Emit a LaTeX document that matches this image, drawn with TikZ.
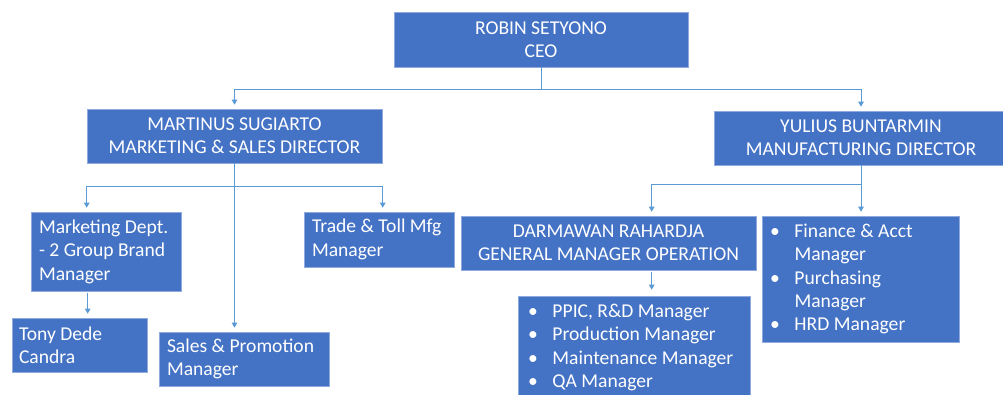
\documentclass[tikz,border=0pt]{standalone}
\usepackage{fontspec}
\setmainfont{Carlito}
\usetikzlibrary{arrows.meta,calc}
\definecolor{boxblue}{HTML}{4472C4}
\definecolor{boxedge}{HTML}{8FAADC}
\definecolor{linkblue}{HTML}{5B9BD5}
\newcommand\bul{\makebox[24.5pt][l]{•}}
\newcommand\ind{\hspace*{24.5pt}}
\tikzset{
  box/.style={fill=boxblue, draw=boxedge, line width=0.6pt, text=white, inner sep=0pt,
              font=\fontsize{19.6}{23.4}\selectfont,
              execute at begin node={\spaceskip=0pt\xspaceskip=0pt}},
  cbox/.style={box, align=center},
  lbox/.style={box, align=left},
  link/.style={draw=linkblue, line width=1pt},
  arr/.style={link, -{Triangle[width=5.5pt,length=5pt]}, shorten >=4pt},
}
\begin{document}
\begin{tikzpicture}[x=1pt,y=-1pt]
\useasboundingbox (0,0) rectangle (1003,394);

\node[cbox, minimum width=294pt, minimum height=55pt] (ceo) at (541,39.5) {ROBIN SETYONO\\CEO};
\node[cbox, minimum width=295pt, minimum height=54pt] (mart) at (234.5,136) {MARTINUS SUGIARTO\\MARKETING \& SALES DIRECTOR};
\node[cbox, minimum width=294pt, minimum height=54pt] (yul) at (861,138) {YULIUS BUNTARMIN\\MANUFACTURING DIRECTOR};

\node[lbox, text width=134pt, inner xsep=8pt, minimum height=79pt] (mkt) at (106,251.5) {Marketing Dept.\\- 2 Group Brand\\Manager};
\node[lbox, text width=134pt, inner xsep=8pt, minimum height=55pt] (trade) at (379,239.5) {Trade \& Toll Mfg\\Manager};
\node[lbox, text width=121pt, inner xsep=7pt, minimum height=54pt] (tony) at (79.5,345) {Tony Dede\\Candra};
\node[lbox, text width=154pt, inner xsep=8pt, minimum height=54pt] (sales) at (244,359) {Sales \& Promotion\\Manager};

\node[cbox, minimum width=295pt, minimum height=54pt] (darm) at (608.5,243) {DARMAWAN RAHARDJA\\GENERAL MANAGER OPERATION};
\node[lbox, text width=181pt, inner xsep=8pt, minimum height=126pt] (fin) at (860.5,279)
  {\bul Finance \& Acct\\\ind Manager\\\bul Purchasing\\\ind Manager\\\bul HRD Manager};
\node[lbox, text width=212pt, inner xsep=10pt, minimum height=103pt] (ppic) at (634,347.5)
  {\bul PPIC, R\&D Manager\\\bul Production Manager\\\bul Maintenance Manager\\\bul QA Manager};

% CEO level
\draw[link] (ceo.south) -- ++(0,22) coordinate (j1);
\draw[arr] (j1) -| (mart.north);
\draw[arr] (j1) -| (yul.north);

% Marketing & Sales
\draw[link] (mart.south) -- ++(0,23) coordinate (j2);
\draw[arr] (j2) -| ($(mkt.north west)+(56,0)$);
\draw[arr] (j2) -| ($(trade.north west)+(79,0)$);
\draw[arr] (j2) -- (j2 |- sales.north);
\coordinate (t1) at ($(mkt.south west)+(57,2)$);
\draw[arr] (t1) -- (t1 |- tony.north);

% Manufacturing
\draw[link] (yul.south) -- ++(0,19) coordinate (j3);
\draw[arr] (j3) -| ($(darm.north west)+(191,0)$);
\draw[arr] (j3) -- (j3 |- fin.north);
\coordinate (d1) at ($(darm.south west)+(191,2)$);
\draw[arr, shorten >=6pt] (d1) -- (d1 |- ppic.north);
\end{tikzpicture}
\end{document}
